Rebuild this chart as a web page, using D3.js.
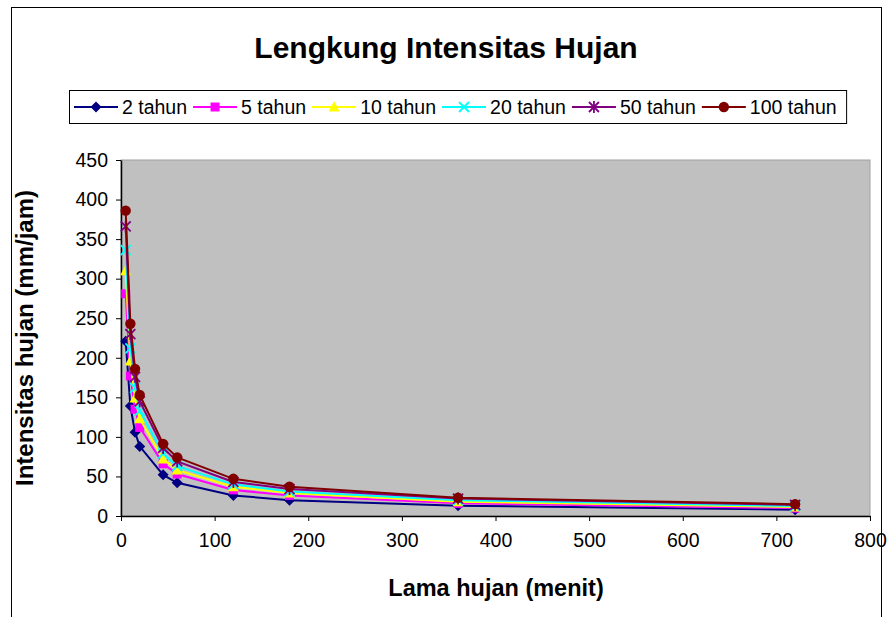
<!DOCTYPE html>
<html>
<head>
<meta charset="utf-8">
<script src="https://cdn.jsdelivr.net/npm/d3@7"></script>
<style>
  body { margin: 0; background: #fff; }
  text { font-family: Arial, "Liberation Sans", sans-serif; }
</style>
</head>
<body>
<div id="chart"></div>
<script>
// durations (menit)
var durations = [5, 10, 15, 20, 45, 60, 120, 180, 360, 720];

// intensitas hujan (mm/jam)
var seriesNames = ["2 tahun", "5 tahun", "10 tahun", "20 tahun", "50 tahun", "100 tahun"];
var i2   = [221, 139, 106, 88, 52, 42, 26, 20, 13, 8];
var i5   = [281, 177, 135, 112, 66, 53, 33, 26, 16, 10];
var i10  = [310, 196, 149, 123, 72, 58, 37, 29, 18, 11.5];
var i20  = [336, 212, 162, 133, 79, 63, 40, 31, 20, 12.5];
var i50  = [366, 230, 176, 145, 86, 69, 43, 34, 22, 14];
var i100 = [386, 243, 186, 153, 91, 74, 47, 37, 23, 15];

var xTicks = [0, 100, 200, 300, 400, 500, 600, 700, 800];
var yTicks = [0, 50, 100, 150, 200, 250, 300, 350, 400, 450];

var colors = ["#000080", "#ff00ff", "#ffff00", "#00ffff", "#800080", "#800000"];
var shapes = ["diamond", "square", "triangle", "cross", "star", "circle"];

var W = 889, H = 617;
var plot = {left: 121, right: 870, top: 160, bottom: 516};

var svg = d3.select("#chart").append("svg")
    .attr("width", W)
    .attr("height", H);

// chart frame
svg.append("rect")
    .attr("x", 11.5).attr("y", 7.5)
    .attr("width", 870).attr("height", 640)
    .attr("fill", "#fff")
    .attr("stroke", "#000")
    .attr("stroke-width", 1);

// title
svg.append("text")
    .attr("x", 446).attr("y", 58)
    .attr("text-anchor", "middle")
    .style("font-size", "30px")
    .style("font-weight", "bold")
    .text("Lengkung Intensitas Hujan");

var x = d3.scaleLinear().domain([0, 800]).range([plot.left, plot.right]);
var y = d3.scaleLinear().domain([0, 450]).range([plot.bottom, plot.top]);

// plot area
svg.append("rect")
    .attr("x", plot.left).attr("y", plot.top)
    .attr("width", plot.right - plot.left)
    .attr("height", plot.bottom - plot.top)
    .attr("fill", "#c0c0c0")
    .attr("stroke", "#a0a0a0")
    .attr("stroke-width", 1);

// axes
var xAxis = svg.append("g")
    .attr("transform", "translate(0," + plot.bottom + ")")
    .call(d3.axisBottom(x).tickValues(xTicks).tickSize(5).tickSizeOuter(0).tickPadding(12));
var yAxis = svg.append("g")
    .attr("transform", "translate(" + plot.left + ",0)")
    .call(d3.axisLeft(y).tickValues(yTicks).tickSize(5).tickSizeOuter(0).tickPadding(8));

[xAxis, yAxis].forEach(function (g) {
    g.select(".domain").attr("stroke", "#000").attr("stroke-width", 1.5);
    g.selectAll(".tick line").attr("stroke", "#000");
    g.selectAll(".tick text")
        .style("font-size", "19.5px")
        .style("font-family", "Arial, 'Liberation Sans', sans-serif")
        .attr("fill", "#000");
});

// axis titles
svg.append("text")
    .attr("x", 496).attr("y", 596)
    .attr("text-anchor", "middle")
    .style("font-size", "23.5px")
    .style("font-weight", "bold")
    .text("Lama hujan (menit)");

svg.append("text")
    .attr("transform", "translate(33,338) rotate(-90)")
    .attr("text-anchor", "middle")
    .style("font-size", "24px")
    .style("font-weight", "bold")
    .text("Intensitas hujan (mm/jam)");

// marker drawing
function marker(g, shape, color) {
    if (shape === "diamond") {
        g.append("path").attr("d", "M0,-5.5L5.5,0L0,5.5L-5.5,0Z").attr("fill", color);
    } else if (shape === "square") {
        g.append("rect").attr("x", -4.5).attr("y", -4.5).attr("width", 9).attr("height", 9).attr("fill", color);
    } else if (shape === "triangle") {
        g.append("path").attr("d", "M0,-6L5.5,4.5L-5.5,4.5Z").attr("fill", color);
    } else if (shape === "cross") {
        g.append("path").attr("d", "M-5,-5L5,5M-5,5L5,-5").attr("stroke", color).attr("stroke-width", 1.8);
    } else if (shape === "star") {
        g.append("path").attr("d", "M-5,-5L5,5M-5,5L5,-5M0,-6L0,6").attr("stroke", color).attr("stroke-width", 1.8);
    } else {
        g.append("circle").attr("r", 5.2).attr("fill", color);
    }
}

var allSeries = [i2, i5, i10, i20, i50, i100];

var line = d3.line()
    .x(function (d) { return x(d[0]); })
    .y(function (d) { return y(d[1]); });

allSeries.forEach(function (vals, s) {
    var pts = durations.map(function (d, i) { return [d, vals[i]]; });
    var g = svg.append("g");
    g.append("path")
        .datum(pts)
        .attr("d", line)
        .attr("fill", "none")
        .attr("stroke", colors[s])
        .attr("stroke-width", 2);
    pts.forEach(function (p) {
        var m = g.append("g").attr("transform", "translate(" + x(p[0]) + "," + y(p[1]) + ")");
        marker(m, shapes[s], colors[s]);
    });
});

// legend
var legend = svg.append("g");
var legBox = legend.append("rect")
    .attr("x", 69.5).attr("y", 90.5)
    .attr("height", 33)
    .attr("fill", "#fff")
    .attr("stroke", "#000");

var lx = 74, ly = 107;
seriesNames.forEach(function (name, s) {
    var item = legend.append("g").attr("transform", "translate(" + lx + "," + ly + ")");
    item.append("line")
        .attr("x1", 0).attr("x2", 44)
        .attr("stroke", colors[s]).attr("stroke-width", 2);
    marker(item.append("g").attr("transform", "translate(22,0)"), shapes[s], colors[s]);
    var t = item.append("text")
        .attr("x", 48).attr("y", 7)
        .style("font-size", "19.5px")
        .text(name);
    lx += 48 + t.node().getComputedTextLength() + 6;
});
legBox.attr("width", lx - 69.5 + 4);
</script>
</body>
</html>
